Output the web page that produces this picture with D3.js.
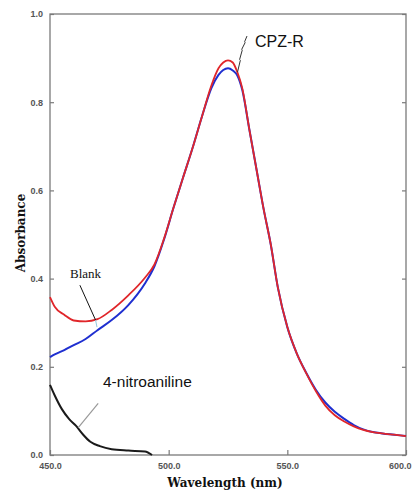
<!DOCTYPE html>
<html>
<head>
<meta charset="utf-8">
<script src="https://cdn.jsdelivr.net/npm/d3@7"></script>
<style>
  html, body { margin: 0; padding: 0; background: #fff; }
  svg { display: block; }
</style>
</head>
<body>
<div id="chart"></div>
<script>
// ---- data ----
const wavelengthMain = [450, 452, 456, 460, 465, 470, 476, 483, 490, 494, 498, 502, 506, 510, 514, 518, 521, 523, 525, 527, 529, 531, 534, 537, 540, 543, 546, 550, 554, 558, 562, 566, 570, 574, 578, 582, 586, 590, 595, 600];
const redAbs  = [0.358, 0.336, 0.318, 0.305, 0.303, 0.308, 0.329, 0.362, 0.402, 0.432, 0.490, 0.560, 0.628, 0.695, 0.767, 0.838, 0.877, 0.890, 0.895, 0.890, 0.867, 0.832, 0.738, 0.648, 0.558, 0.478, 0.380, 0.290, 0.230, 0.185, 0.145, 0.112, 0.090, 0.076, 0.065, 0.057, 0.052, 0.049, 0.046, 0.043];
const blueAbs = [0.222, 0.228, 0.238, 0.249, 0.263, 0.283, 0.306, 0.340, 0.389, 0.428, 0.488, 0.560, 0.628, 0.695, 0.767, 0.832, 0.862, 0.873, 0.877, 0.872, 0.860, 0.828, 0.738, 0.648, 0.558, 0.478, 0.380, 0.290, 0.230, 0.186, 0.148, 0.119, 0.098, 0.082, 0.068, 0.058, 0.052, 0.049, 0.046, 0.043];
const wavelengthNitro = [450, 452, 455, 458, 461, 464, 467, 471, 476, 483, 490, 493];
const nitroAbs = [0.159, 0.135, 0.104, 0.082, 0.066, 0.046, 0.030, 0.020, 0.013, 0.010, 0.008, 0.0];
const xTicks = [450, 500, 550, 600];
const yTicks = [0.0, 0.2, 0.4, 0.6, 0.8, 1.0];
const xTitle = "Wavelength (nm)";
const yTitle = "Absorbance";
const labelCPZ = "CPZ-R";
const labelBlank = "Blank";
const labelNitro = "4-nitroaniline";

// ---- layout ----
const W = 412, H = 497;
const svg = d3.select("#chart").append("svg").attr("width", W).attr("height", H);

const x = d3.scaleLinear().domain([450, 600]).range([50, 406]);
const y = d3.scaleLinear().domain([0, 1.0]).range([455, 14]);

const axisColor = "#7a7a7a";
const tickFont = "'Liberation Sans', Arial, sans-serif";

// frame
svg.append("rect")
  .attr("x", x(450)).attr("y", y(1.0))
  .attr("width", x(600) - x(450)).attr("height", y(0) - y(1.0))
  .attr("fill", "none").attr("stroke", axisColor).attr("stroke-width", 1.3);

// axes
const xAxis = d3.axisBottom(x).tickValues(xTicks).tickFormat(d3.format(".1f")).tickSizeInner(-5).tickSizeOuter(0).tickPadding(8);
const gx = svg.append("g").attr("transform", `translate(0,${y(0)})`).call(xAxis);
const yAxis = d3.axisLeft(y).tickValues(yTicks).tickFormat(d3.format(".1f")).tickSizeInner(-4).tickSizeOuter(0).tickPadding(7);
const gy = svg.append("g").attr("transform", `translate(${x(450)},0)`).call(yAxis);
const yAxisR = d3.axisRight(y).tickValues(yTicks).tickFormat("").tickSizeInner(-4).tickSizeOuter(0);
const gyr = svg.append("g").attr("transform", `translate(${x(600)},0)`).call(yAxisR);

[gx, gy, gyr].forEach(g => {
  g.select(".domain").remove();
  g.selectAll(".tick line").attr("stroke", axisColor).attr("stroke-width", 1.2);
  g.selectAll(".tick text")
    .attr("fill", "#555").attr("font-family", tickFont)
    .attr("font-size", 9).attr("font-weight", "bold");
});
// keep the last x label inside the window
gx.selectAll(".tick text").filter(d => d === 600).attr("text-anchor", "end").attr("dx", 5);

// lines
const line = d3.line().x(d => x(d[0])).y(d => y(d[1])).curve(d3.curveMonotoneX);
const redData = wavelengthMain.map((w, i) => [w, redAbs[i]]);
const blueData = wavelengthMain.map((w, i) => [w, blueAbs[i]]);
const nitroData = wavelengthNitro.map((w, i) => [w, nitroAbs[i]]);

svg.append("path").datum(nitroData).attr("d", line)
  .attr("fill", "none").attr("stroke", "#1a1a1a").attr("stroke-width", 2);
svg.append("path").datum(blueData).attr("d", line)
  .attr("fill", "none").attr("stroke", "#1f2fd0").attr("stroke-width", 2);
svg.append("path").datum(redData).attr("d", line)
  .attr("fill", "none").attr("stroke", "#e0262a").attr("stroke-width", 1.8);

// annotations
// CPZ-R leader (jagged)
const cpzPts = [[529, 0.868], [530.2, 0.895], [529.9, 0.897], [531.0, 0.918], [530.8, 0.920], [532.2, 0.935], [532.0, 0.937], [533.0, 0.950]];
svg.append("path")
  .attr("d", d3.line().x(d => x(d[0])).y(d => y(d[1]))(cpzPts))
  .attr("fill", "none").attr("stroke", "#333").attr("stroke-width", 1);
svg.append("text").attr("x", 255).attr("y", 47)
  .attr("font-family", "'Liberation Sans', Arial, sans-serif").attr("font-size", 16)
  .attr("fill", "#111").text(labelCPZ);

// Blank
svg.append("line")
  .attr("x1", x(462.6)).attr("y1", y(0.385)).attr("x2", x(469.2)).attr("y2", y(0.306))
  .attr("stroke", "#111").attr("stroke-width", 1);
svg.append("line")
  .attr("x1", x(469.2)).attr("y1", y(0.306)).attr("x2", x(469.8)).attr("y2", y(0.290))
  .attr("stroke", "#8fc8e0").attr("stroke-width", 1);
svg.append("text").attr("x", 70).attr("y", 278)
  .attr("font-family", "'Liberation Serif', 'Times New Roman', serif").attr("font-size", 13)
  .attr("fill", "#111").text(labelBlank);

// 4-nitroaniline
svg.append("line")
  .attr("x1", x(461.9)).attr("y1", y(0.062)).attr("x2", x(470.3)).attr("y2", y(0.117))
  .attr("stroke", "#999").attr("stroke-width", 1.2);
svg.append("text").attr("x", 103).attr("y", 387)
  .attr("font-family", "'Liberation Sans', Arial, sans-serif").attr("font-size", 15.5)
  .attr("fill", "#111").text(labelNitro);

// axis titles
svg.append("text").attr("x", 225).attr("y", 487).attr("text-anchor", "middle")
  .attr("font-family", "'DejaVu Serif', 'Liberation Serif', serif").attr("font-size", 12)
  .attr("font-weight", "bold").attr("fill", "#111").text(xTitle);
svg.append("text").attr("transform", "translate(25,233) rotate(-90)").attr("text-anchor", "middle")
  .attr("font-family", "'DejaVu Serif', 'Liberation Serif', serif").attr("font-size", 12)
  .attr("font-weight", "bold").attr("fill", "#111").text(yTitle);
</script>
</body>
</html>
